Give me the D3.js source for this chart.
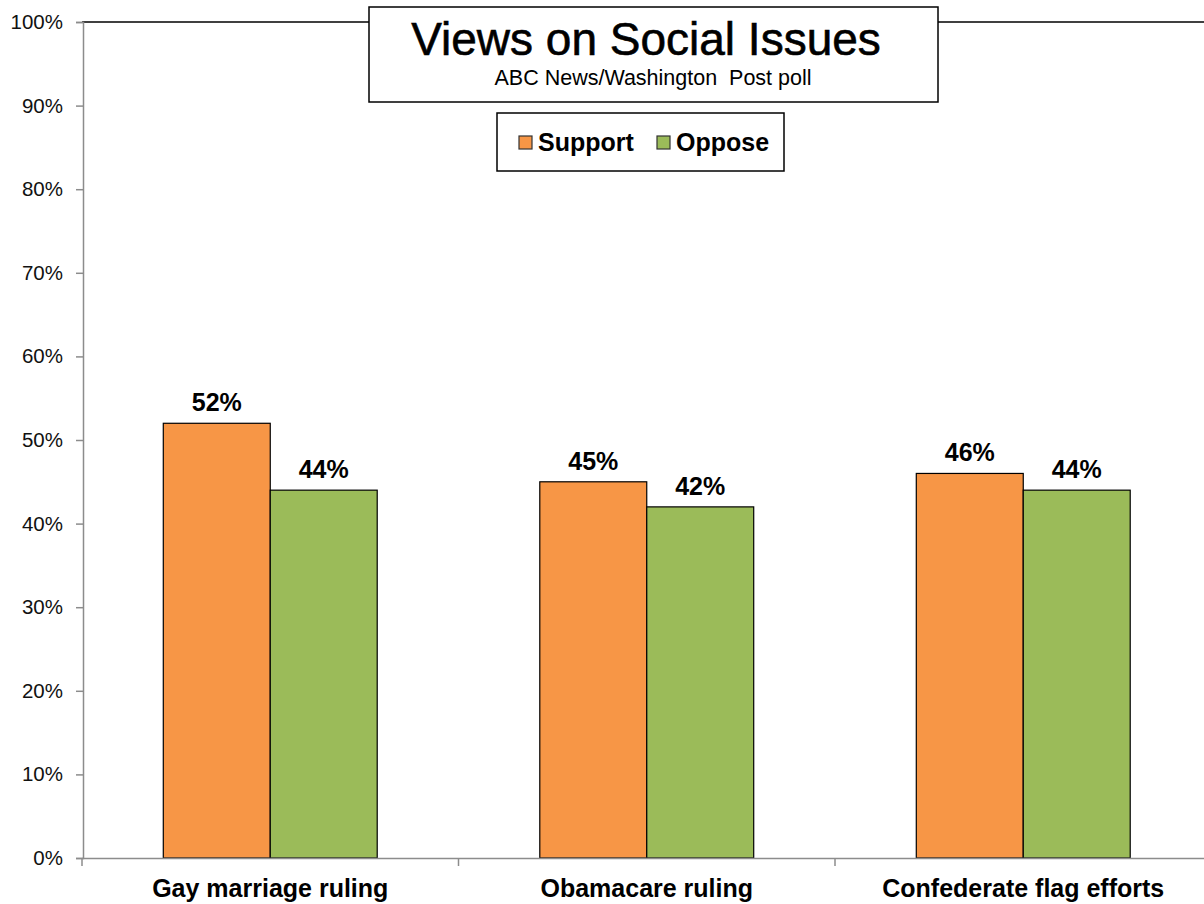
<!DOCTYPE html>
<html>
<head>
<meta charset="utf-8">
<script src="https://cdn.jsdelivr.net/npm/d3@7"></script>
<style>
  body { margin: 0; background: #fff; }
  text { font-family: "Liberation Sans", Arial, sans-serif; }
</style>
</head>
<body>
<div id="chart"></div>
<script>
// chart data
var categories  = ['Gay marriage ruling', 'Obamacare ruling', 'Confederate flag efforts'];
var seriesNames = ['Support', 'Oppose'];
var support     = [52, 45, 46];
var oppose      = [44, 42, 44];
var yTicks      = [0, 10, 20, 30, 40, 50, 60, 70, 80, 90, 100];

var colors = { Support: '#F79646', Oppose: '#9BBB59' };

var chart_width  = 1204;
var chart_height = 904;
var plot_left    = 82;
var plot_top     = 22;
var plot_bottom  = 858;
var cat_step     = 376.5;

var rows = categories.map(function(c, i) {
	return { cat: c, values: [
		{ key: 'Support', value: support[i] },
		{ key: 'Oppose',  value: oppose[i] }
	]};
});

var svg = d3.select('#chart')
	.append('svg')
	.attr('width', chart_width)
	.attr('height', chart_height);

// scales
var x0 = d3.scaleBand()
	.domain(categories)
	.range([plot_left, plot_left + cat_step * categories.length]);

var x1 = d3.scaleBand()
	.domain(seriesNames)
	.range([0, x0.bandwidth()])
	.paddingOuter(0.76);

var y = d3.scaleLinear()
	.domain([0, 100])
	.range([plot_bottom, plot_top]);

// top border of the plot area
svg.append('line')
	.attr('x1', plot_left).attr('x2', chart_width)
	.attr('y1', y(100)).attr('y2', y(100))
	.attr('stroke', '#000').attr('stroke-width', 1.5);

// bars
var groups = svg.selectAll('g.cat')
	.data(rows)
	.enter().append('g')
	.attr('class', 'cat')
	.attr('transform', function(d) { return 'translate(' + x0(d.cat) + ',0)'; });

groups.selectAll('rect')
	.data(function(d) { return d.values; })
	.enter().append('rect')
	.attr('x', function(d) { return x1(d.key); })
	.attr('y', function(d) { return y(d.value); })
	.attr('width', x1.bandwidth())
	.attr('height', function(d) { return y(0) - y(d.value); })
	.attr('fill', function(d) { return colors[d.key]; })
	.attr('stroke', '#000')
	.attr('stroke-width', 1.2);

groups.selectAll('text.val')
	.data(function(d) { return d.values; })
	.enter().append('text')
	.attr('class', 'val')
	.attr('x', function(d) { return x1(d.key) + x1.bandwidth() / 2; })
	.attr('y', function(d) { return y(d.value) - 12; })
	.attr('text-anchor', 'middle')
	.attr('font-size', 25)
	.attr('font-weight', 'bold')
	.attr('fill', '#000')
	.text(function(d) { return d.value + '%'; });

// y axis
var yAxis = d3.axisLeft(y)
	.tickValues(yTicks)
	.tickFormat(function(d) { return d + '%'; })
	.tickSizeOuter(0)
	.tickSize(7)
	.tickPadding(13);

var gy = svg.append('g')
	.attr('transform', 'translate(' + (plot_left + 1) + ',0)')
	.call(yAxis);
gy.select('.domain').attr('stroke', '#8c8c8c').attr('stroke-width', 1.5);
gy.selectAll('.tick line').attr('stroke', '#8c8c8c').attr('stroke-width', 1.5);
gy.selectAll('.tick text')
	.attr('font-size', 20.5)
	.attr('font-family', '"Liberation Sans", Arial, sans-serif')
	.attr('fill', '#111');

// x axis
var xAxis = d3.axisBottom(x0)
	.tickSize(0)
	.tickSizeOuter(0)
	.tickPadding(21);

var gx = svg.append('g')
	.attr('transform', 'translate(0,' + plot_bottom + ')')
	.call(xAxis);
gx.select('.domain').attr('stroke', '#8c8c8c').attr('stroke-width', 1.5);
gx.selectAll('.tick text')
	.attr('font-size', 25)
	.attr('font-weight', 'bold')
	.attr('font-family', '"Liberation Sans", Arial, sans-serif')
	.attr('fill', '#000');

// category boundary ticks
gx.selectAll('line.bound')
	.data(categories)
	.enter().append('line')
	.attr('class', 'bound')
	.attr('x1', function(d) { return x0(d); })
	.attr('x2', function(d) { return x0(d); })
	.attr('y1', 0).attr('y2', 8)
	.attr('stroke', '#8c8c8c').attr('stroke-width', 1.5);

// title box
svg.append('rect')
	.attr('x', 369).attr('y', 7)
	.attr('width', 569).attr('height', 95)
	.attr('fill', '#fff')
	.attr('stroke', '#000').attr('stroke-width', 1.5);

svg.append('text')
	.attr('x', 646).attr('y', 55)
	.attr('text-anchor', 'middle')
	.attr('font-size', 46)
	.attr('fill', '#000')
	.attr('stroke', '#000').attr('stroke-width', 0.6)
	.text('Views on Social Issues');

svg.append('text')
	.attr('x', 653).attr('y', 85)
	.attr('text-anchor', 'middle')
	.attr('font-size', 22)
	.attr('textLength', 317)
	.attr('lengthAdjust', 'spacingAndGlyphs')
	.style('white-space', 'pre')
	.attr('fill', '#000')
	.text('ABC News/Washington  Post poll');

// legend
svg.append('rect')
	.attr('x', 497).attr('y', 113)
	.attr('width', 287).attr('height', 58)
	.attr('fill', '#fff')
	.attr('stroke', '#000').attr('stroke-width', 1.5);

var legendX = [519, 657];
var lg = svg.selectAll('g.leg')
	.data(seriesNames)
	.enter().append('g')
	.attr('class', 'leg')
	.attr('transform', function(d, i) { return 'translate(' + legendX[i] + ',136)'; });

lg.append('rect')
	.attr('width', 13).attr('height', 13)
	.attr('fill', function(d) { return colors[d]; })
	.attr('stroke', '#333').attr('stroke-width', 1.2);

lg.append('text')
	.attr('x', 19).attr('y', 15)
	.attr('font-size', 25)
	.attr('font-weight', 'bold')
	.attr('fill', '#000')
	.text(function(d) { return d; });
</script>
</body>
</html>
